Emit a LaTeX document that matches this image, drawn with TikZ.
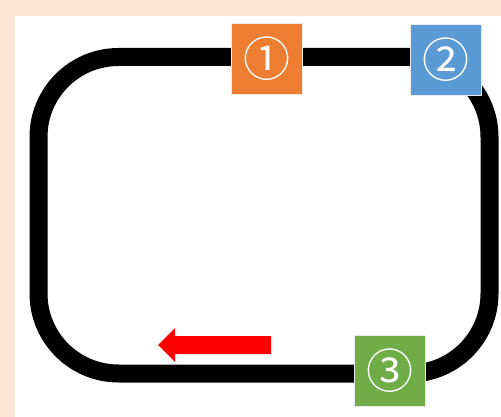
\documentclass[tikz,border=0pt]{standalone}
\usepackage{fontspec}
\newfontfamily\cjk{Noto Sans CJK SC}
\definecolor{peach}{HTML}{FBE5D6}
\definecolor{boxorange}{HTML}{ED7D31}
\definecolor{boxblue}{HTML}{5B9BD5}
\definecolor{boxgreen}{HTML}{70AD47}
\definecolor{arrowred}{HTML}{FF0000}
\tikzset{
  stationbox/.style={minimum size=71pt, inner sep=0pt, draw=white!85!gray, line width=0.5pt,
    font=\cjk\fontsize{47}{47}\selectfont, text=white},
  track/.style={line width=18pt, rounded corners=80pt, draw=black}
}
\begin{document}
\begin{tikzpicture}[x=1pt,y=-1pt]
\useasboundingbox (0,0) rectangle (501,417);
\fill[peach] (0,0) rectangle (501,417);
\fill[white] (15,16) rectangle (501,417);
\draw[track] (38.5,57) rectangle (489.5,373.5);
\node[stationbox, fill=boxorange] (b1) at (267,58.5) {①};
\node[stationbox, fill=boxblue] (b2) at (445.5,59.5) {②};
\node[stationbox, fill=boxgreen] (b3) at (390,371) {③};
\fill[arrowred] (271,336) -- (175,336) -- (175,328) -- (158,345) -- (175,362) -- (175,354) -- (271,354) -- cycle;
\end{tikzpicture}
\end{document}
